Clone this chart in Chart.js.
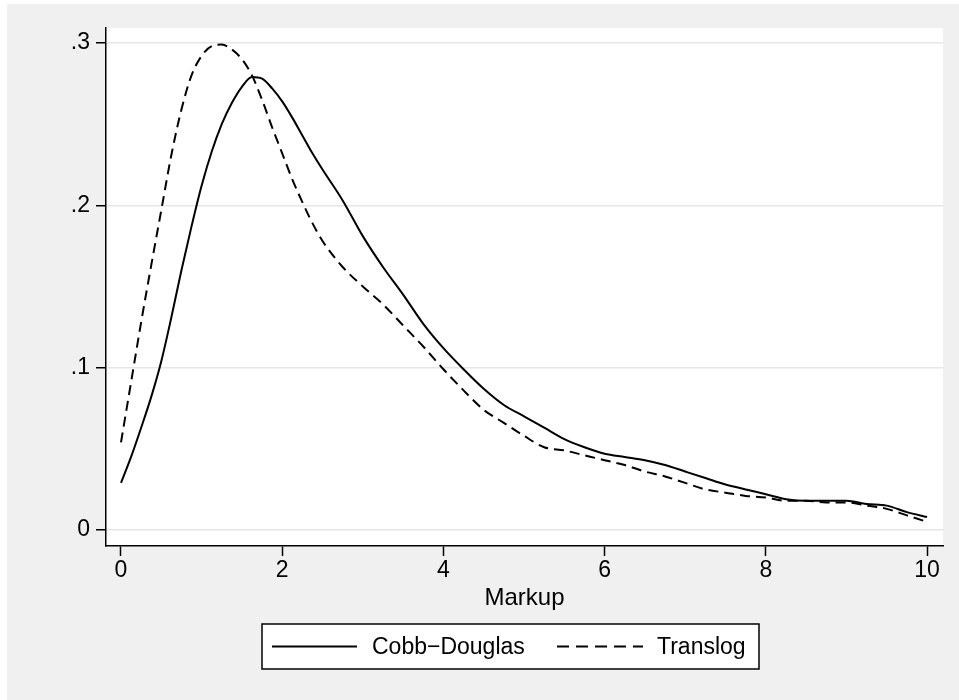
<!DOCTYPE html>
<html><head><meta charset="utf-8">
<script src="https://cdn.jsdelivr.net/npm/chart.js@4.4.1/dist/chart.umd.min.js"></script>
<style>html,body{margin:0;padding:0;background:#fff;overflow:hidden}#wrap{width:959px;height:700px;position:relative}</style>
</head><body><div id="wrap"><canvas id="c" width="959" height="700"></canvas></div>
<script>
const markup = [0,0.125,0.25,0.375,0.5,0.625,0.75,0.875,1,1.125,1.25,1.375,1.5,1.625,1.75,1.875,2,2.125,2.25,2.375,2.5,2.75,3,3.25,3.5,3.75,4,4.25,4.5,4.75,5,5.25,5.5,5.75,6,6.25,6.5,6.75,7,7.25,7.5,7.75,8,8.25,8.5,8.75,9,9.25,9.5,9.75,10];
const cobbDouglas = [0.029,0.045,0.063,0.082,0.104,0.131,0.160,0.187,0.212,0.233,0.250,0.263,0.273,0.279,0.278,0.272,0.264,0.254,0.243,0.232,0.222,0.203,0.181,0.162,0.145,0.127,0.112,0.099,0.087,0.077,0.070,0.063,0.056,0.051,0.047,0.045,0.043,0.040,0.036,0.032,0.028,0.025,0.022,0.019,0.018,0.018,0.018,0.016,0.015,0.011,0.008];
const translog = [0.054,0.091,0.128,0.163,0.197,0.231,0.259,0.280,0.292,0.298,0.299,0.296,0.290,0.280,0.265,0.248,0.232,0.216,0.202,0.189,0.178,0.162,0.150,0.139,0.126,0.113,0.099,0.086,0.074,0.066,0.058,0.051,0.049,0.046,0.043,0.040,0.036,0.033,0.029,0.025,0.023,0.021,0.020,0.018,0.018,0.017,0.017,0.015,0.013,0.009,0.005];
const xTicks = [0,2,4,6,8,10];
const yTicks = [0,0.1,0.2,0.3];
const yTickLabels = ['0','.1','.2','.3'];
const seriesLabels = ['Cobb\u2212Douglas','Translog'];
const xTitle = 'Markup';

const FAMILY = '"Liberation Sans", Arial, sans-serif';
const FONT = {family:FAMILY, size:23};
const TITLE_FONT = {family:FAMILY, size:24};

const bgPlugin = {
  id:'bg',
  beforeDraw(chart){
    const {ctx, chartArea:a} = chart;
    ctx.save();
    ctx.fillStyle = '#fff';
    ctx.fillRect(0,0,chart.width,chart.height);
    ctx.fillStyle = '#f0f0f0';
    ctx.fillRect(7,4,chart.width-7,chart.height-4);
    ctx.fillStyle = '#fff';
    ctx.fillRect(a.left,a.top,a.right-a.left,a.bottom-a.top);
    ctx.restore();
  }
};

const legendPlugin = {
  id:'boxLegend',
  afterDraw(chart){
    const ctx = chart.ctx;
    const x0=262, y0=624, w=497, h=45, cy=y0+h/2;
    ctx.save();
    ctx.fillStyle='#fff';
    ctx.fillRect(x0,y0,w,h);
    ctx.strokeStyle='#000';
    ctx.lineWidth=1.5;
    ctx.strokeRect(x0,y0,w,h);
    const items = [
      {lx:272, lw:85, tx:372, ds:chart.data.datasets[0]},
      {lx:557, lw:86, tx:657, ds:chart.data.datasets[1]}
    ];
    ctx.font = FONT.size+'px '+FONT.family;
    ctx.textBaseline='middle';
    ctx.textAlign='left';
    items.forEach(it=>{
      ctx.beginPath();
      ctx.setLineDash(it.ds.borderDash ? [12,7] : []);
      ctx.lineWidth = it.ds.borderWidth;
      ctx.strokeStyle = it.ds.borderColor;
      ctx.moveTo(it.lx,cy); ctx.lineTo(it.lx+it.lw,cy); ctx.stroke();
      ctx.setLineDash([]);
      ctx.fillStyle='#000';
      ctx.fillText(it.ds.label,it.tx,cy+1);
    });
    ctx.restore();
  }
};

new Chart(document.getElementById('c'), {
  type:'line',
  data:{
    datasets:[
      {label:seriesLabels[0], data:markup.map((x,i)=>({x:x,y:cobbDouglas[i]})), borderColor:'#000', borderWidth:2, pointRadius:0, fill:false, cubicInterpolationMode:'monotone'},
      {label:seriesLabels[1], data:markup.map((x,i)=>({x:x,y:translog[i]})), borderColor:'#000', borderWidth:2, borderDash:[10,6], pointRadius:0, fill:false, cubicInterpolationMode:'monotone'}
    ]
  },
  options:{
    responsive:false, animation:false, devicePixelRatio:1,
    layout:{padding:{left:0,right:16,top:28,bottom:84}},
    plugins:{legend:{display:false}, tooltip:{enabled:false}},
    scales:{
      x:{
        type:'linear', min:-0.186, max:10.198,
        afterBuildTicks:s=>{s.ticks = xTicks.map(v=>({value:v}));},
        afterFit:s=>{s.height=70;},
        ticks:{font:FONT, color:'#000', padding:1, maxRotation:0, autoSkip:false, callback:v=>String(v)},
        grid:{drawOnChartArea:false, drawTicks:true, tickLength:10, tickColor:'#000', tickWidth:1.5},
        border:{color:'#000', width:1.5},
        title:{display:true, text:xTitle, font:TITLE_FONT, color:'#000', padding:{top:0,bottom:3}}
      },
      y:{
        type:'linear', min:-0.00986, max:0.3092,
        afterBuildTicks:s=>{s.ticks = yTicks.map(v=>({value:v}));},
        afterFit:s=>{s.width=106;},
        ticks:{font:FONT, color:'#000', padding:6, autoSkip:false, callback:(v)=>{const i=yTicks.findIndex(t=>Math.abs(t-v)<1e-9);return i>=0?yTickLabels[i]:'';}},
        grid:{color:'#e6e6e6', lineWidth:1.5, tickLength:10, tickColor:'#000', tickWidth:1.5},
        border:{color:'#000', width:1.5}
      }
    }
  },
  plugins:[bgPlugin, legendPlugin]
});
</script></body></html>
